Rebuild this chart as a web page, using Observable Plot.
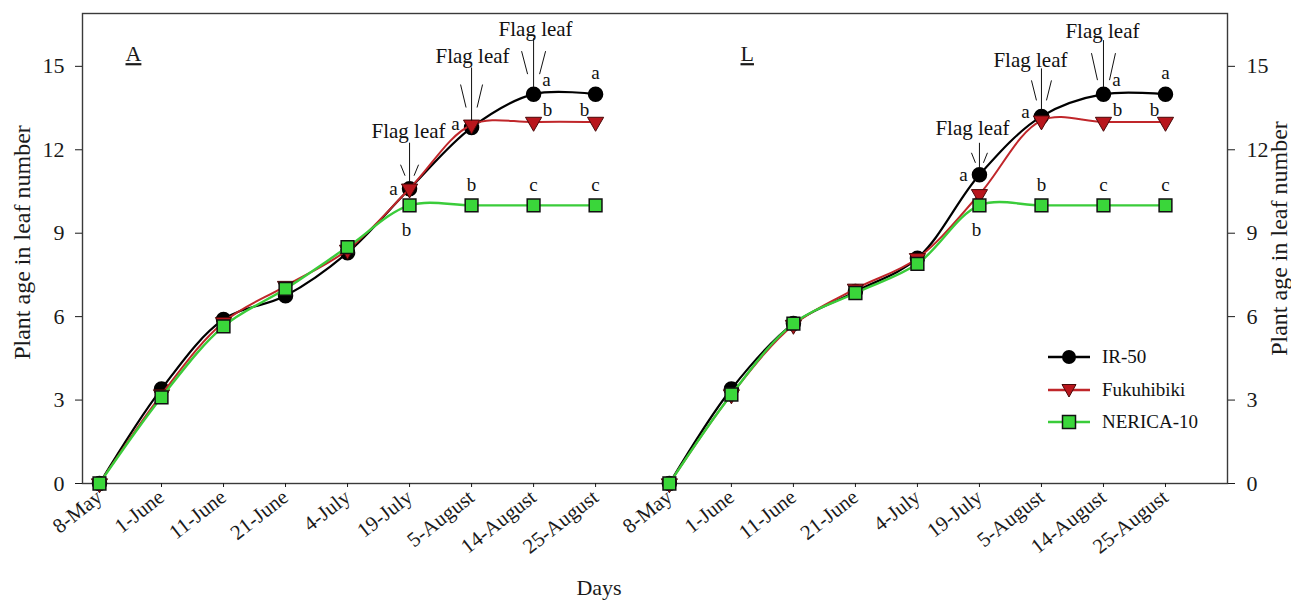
<!DOCTYPE html>
<html><head><meta charset="utf-8">
<script src="https://cdn.jsdelivr.net/npm/d3@7"></script>
<script src="https://cdn.jsdelivr.net/npm/@observablehq/plot@0.6"></script>
<style>
body{margin:0;background:#fff;}
#wrap{position:relative;width:1291px;height:603px;font-family:"Liberation Serif",serif;color:#111;}
#legend{position:absolute;left:1046px;top:341px;font-size:19px;}
.row{display:flex;align-items:center;height:32.5px;}
.row span{margin-left:10px;}
</style></head><body><div id="wrap"></div>
<script>
// ---------- data ----------
const dates = ["8-May","1-June","11-June","21-June","4-July","19-July","5-August","14-August","25-August"];
const panels = ["A","L"];
const seriesNames = ["IR-50","Fukuhibiki","NERICA-10"];
const yTicks = [0,3,6,9,12,15];

const ir50A    = [0, 3.4, 5.9, 6.75, 8.3, 10.6, 12.8, 14.0, 14.0];
const fukuA    = [0, 3.2, 5.8, 7.1, 8.4, 10.6, 12.9, 13.0, 13.0];
const nericaA  = [0, 3.1, 5.65, 7.0, 8.5, 10.0, 10.0, 10.0, 10.0];
const ir50L    = [0, 3.4, 5.75, 6.9, 8.1, 11.1, 13.2, 14.0, 14.0];
const fukuL    = [0, 3.2, 5.7, 7.0, 8.1, 10.4, 13.05, 13.0, 13.0];
const nericaL  = [0, 3.2, 5.75, 6.85, 7.9, 10.0, 10.0, 10.0, 10.0];

const sigDate   = ["19-July","19-July","5-August","5-August","14-August","14-August","14-August","25-August","25-August","25-August"];
const sigSeries = ["IR-50","NERICA-10","IR-50","NERICA-10","IR-50","Fukuhibiki","NERICA-10","IR-50","Fukuhibiki","NERICA-10"];
const sigLetter = ["a","b","a","b","a","b","c","a","b","c"];

const flagDates = ["19-July","5-August","14-August"];
const flagText = "Flag leaf";

// ---------- layout ----------
const W = 1291, H = 603, mL = 82, mR = 64, mT = 13, mB = 120;
const panelGap = 9.19;
const xDom = [-0.274, panelGap + 9];
const yDom = [0, 16.9];
const kx = (W - mL - mR) / (xDom[1] - xDom[0]);
const ky = (H - mT - mB) / (yDom[1] - yDom[0]);

const color = {"IR-50": "#000000", "Fukuhibiki": "#c0262a", "NERICA-10": "#3acc3a"};

const valuesBy = {
  A: {"IR-50": ir50A, "Fukuhibiki": fukuA, "NERICA-10": nericaA},
  L: {"IR-50": ir50L, "Fukuhibiki": fukuL, "NERICA-10": nericaL}
};
const rows = [];
panels.forEach((p, pi) => seriesNames.forEach(s => dates.forEach((d, i) =>
  rows.push({panel: p, series: s, date: d, pos: pi * panelGap + i, value: valuesBy[p][s][i]}))));
const posOf = (p, d) => panels.indexOf(p) * panelGap + dates.indexOf(d);
const tickPos = rows.filter(r => r.series === "IR-50").map(r => r.pos);
const tickLabel = new Map(rows.filter(r => r.series === "IR-50").map(r => [r.pos, r.date]));

// letter placement (pixel offsets) by date|series
const letterOff = {
  "19-July|IR-50": [-16, 0], "19-July|NERICA-10": [-3, 25],
  "5-August|IR-50": [-16, -4], "5-August|NERICA-10": [0, -20],
  "14-August|IR-50": [13, -14], "14-August|Fukuhibiki": [14, -12], "14-August|NERICA-10": [0, -20],
  "25-August|IR-50": [0, -21], "25-August|Fukuhibiki": [-11, -12], "25-August|NERICA-10": [0, -20]
};
const letters = [];
panels.forEach(p => sigDate.forEach((d, i) => {
  const s = sigSeries[i], o = letterOff[d + "|" + s];
  const v = valuesBy[p][s][dates.indexOf(d)];
  letters.push({x: posOf(p, d) + o[0] / kx, y: v - o[1] / ky, t: sigLetter[i]});
}));

// flag leaf annotation layout (pixel offsets relative to top marker)
const flagLayout = {
  A: [{tdx: -1, tdy: -57, top: -46, sTop: -24, sBot: -13, sx: 9},
      {tdx: 1, tdy: -71, top: -60, sTop: -43, sBot: -20, sx: 11},
      {tdx: 2, tdy: -65, top: -56, sTop: -43, sBot: -20, sx: 12}],
  L: [{tdx: -7, tdy: -47, top: -32, sTop: -22, sBot: -12, sx: 8},
      {tdx: -11, tdy: -56, top: -48, sTop: -36, sBot: -16, sx: 10},
      {tdx: -1, tdy: -63, top: -54, sTop: -41, sBot: -14, sx: 12}]
};
const flagTexts = [], flagSegs = [];
panels.forEach(p => flagDates.forEach((d, i) => {
  const L = flagLayout[p][i];
  const x0 = posOf(p, d);
  const v = valuesBy[p]["IR-50"][dates.indexOf(d)];
  const P = (dx, dy) => [x0 + dx / kx, v - dy / ky];
  const t = P(L.tdx, L.tdy);
  flagTexts.push({x: t[0], y: t[1]});
  const seg = (a, b) => flagSegs.push({x1: a[0], y1: a[1], x2: b[0], y2: b[1]});
  seg(P(0, L.top), P(0, -7));
  seg(P(-L.sx, L.sTop), P(-L.sx / 2, L.sBot));
  seg(P(L.sx, L.sTop), P(L.sx / 2, L.sBot));
}));

const bySeries = s => rows.filter(r => r.series === s);

const chart = Plot.plot({
  width: W, height: H,
  marginLeft: mL, marginRight: mR, marginTop: mT, marginBottom: mB,
  style: {fontFamily: "Liberation Serif, serif", fontSize: "21px", color: "#1a1a1a", background: "white"},
  x: {type: "linear", domain: xDom},
  y: {domain: yDom},
  marks: [
    Plot.frame({stroke: "#3a3a3a", strokeWidth: 1.4}),
    Plot.axisY({anchor: "left", ticks: yTicks, tickSize: 7, tickPadding: 11, label: null, fontSize: 22}),
    Plot.axisY({anchor: "right", ticks: yTicks, tickSize: 7, tickPadding: 12, label: null, fontSize: 22}),
    Plot.axisX({ticks: tickPos, tickFormat: d => tickLabel.get(d), tickRotate: -38, tickSize: 4, tickPadding: 7, label: null, fontSize: 21}),
    Plot.text(["Plant age in leaf number"], {frameAnchor: "left", textAnchor: "middle", dx: -60, dy: -6, rotate: -90, fontSize: 24}),
    Plot.text(["Plant age in leaf number"], {frameAnchor: "right", textAnchor: "middle", dx: 52, dy: -10, rotate: -90, fontSize: 24}),
    Plot.text(["Days"], {frameAnchor: "bottom", dx: -56, dy: 111, fontSize: 22}),
    Plot.text(["A"], {frameAnchor: "top-left", dx: 43, dy: 32, fontSize: 22}),
    Plot.text(["L"], {frameAnchor: "top-left", dx: 658, dy: 32, fontSize: 22}),
    // series
    Plot.line(bySeries("IR-50"), {x: "pos", y: "value", z: "panel", stroke: color["IR-50"], strokeWidth: 2.2, curve: "catmull-rom"}),
    Plot.dot(bySeries("IR-50"), {x: "pos", y: "value", r: 7, fill: "#000", stroke: "#000", symbol: "circle"}),
    Plot.line(bySeries("Fukuhibiki"), {x: "pos", y: "value", z: "panel", stroke: color["Fukuhibiki"], strokeWidth: 2, curve: "catmull-rom"}),
    Plot.dot(bySeries("Fukuhibiki"), {x: "pos", y: "value", r: 6, symbol: "triangle", rotate: 180, fill: "#b8161c", stroke: "#4a0808", strokeWidth: 1}),
    Plot.line(bySeries("NERICA-10"), {x: "pos", y: "value", z: "panel", stroke: color["NERICA-10"], strokeWidth: 2.4, curve: "catmull-rom"}),
    Plot.dot(bySeries("NERICA-10"), {x: "pos", y: "value", r: 7.2, symbol: "square", fill: "#3ad63a", stroke: "#111", strokeWidth: 1.5}),
    // annotations
    Plot.link(flagSegs, {x1: "x1", y1: "y1", x2: "x2", y2: "y2", stroke: "#111", strokeWidth: 1}),
    Plot.text(flagTexts, {x: "x", y: "y", text: () => flagText, fontSize: 21, fill: "#111"}),
    Plot.text(letters, {x: "x", y: "y", text: "t", fontSize: 19, fill: "#111"})
  ]
});
chart.querySelectorAll("text").forEach(t => {
  if (t.textContent === "A" || t.textContent === "L") t.style.textDecoration = "underline";
});
const wrap = document.getElementById("wrap");
wrap.appendChild(chart);

// legend (inside plot area, as in reference)
const legend = document.createElement("div");
legend.id = "legend";
const sym = {
  "IR-50": '<circle cx="23" cy="10" r="7" fill="#000"/>',
  "Fukuhibiki": '<path d="M16,4.5 L30,4.5 L23,17 Z" fill="#b8161c" stroke="#4a0808"/>',
  "NERICA-10": '<rect x="16.5" y="3.5" width="13" height="13" fill="#3ad63a" stroke="#111" stroke-width="1.5"/>'
};
seriesNames.forEach(s => {
  const row = document.createElement("div");
  row.className = "row";
  row.innerHTML = `<svg width="46" height="20"><line x1="2" x2="44" y1="10" y2="10" stroke="${color[s]}" stroke-width="2.6"/>${sym[s]}</svg><span>${s}</span>`;
  legend.appendChild(row);
});
wrap.appendChild(legend);
</script></body></html>
